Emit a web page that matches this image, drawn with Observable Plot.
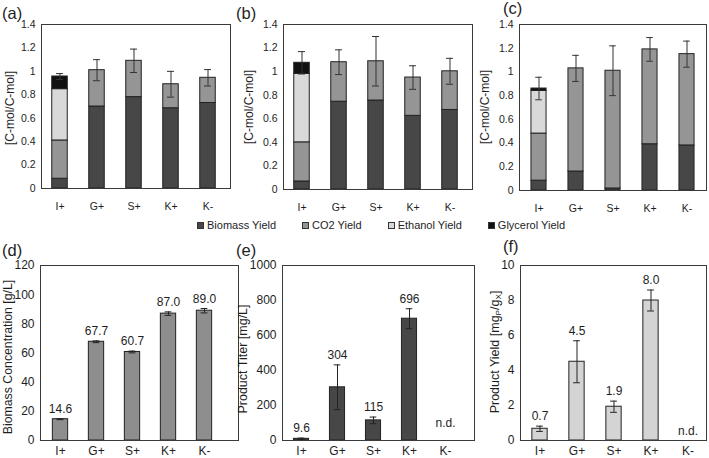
<!DOCTYPE html>
<html><head><meta charset="utf-8">
<script src="https://cdn.jsdelivr.net/npm/d3@7"></script>
<script src="https://cdn.jsdelivr.net/npm/@observablehq/plot@0.6"></script>
<style>
html,body{margin:0;padding:0;background:#fff;}
#chart{position:relative;width:709px;height:458px;overflow:hidden;font-family:"Liberation Sans",Arial,sans-serif;color:#1e1e1e;}
#chart svg{position:absolute;left:0;top:0;}
.plbl{position:absolute;font-size:16.5px;line-height:13px;white-space:nowrap;}
.ytitle{position:absolute;white-space:nowrap;line-height:1;transform:translate(-50%,-50%) rotate(-90deg);}
.ytitle sub{font-size:65%;vertical-align:-0.25em;line-height:0;}
#legend{position:absolute;left:197px;top:219px;display:flex;gap:26px;font-size:11px;line-height:13px;white-space:nowrap;}
#legend .it{display:flex;align-items:center;}
#legend .sw{width:5px;height:5px;border:1px solid #333;margin-right:3px;}
</style></head><body><div id="chart"></div>
<script>
// ---------- data ----------
const categories = ["I+", "G+", "S+", "K+", "K-"];
const components = ["Biomass Yield", "CO2 Yield", "Ethanol Yield", "Glycerol Yield"];

// (a)
const aBiomass  = [0.083, 0.70, 0.78, 0.685, 0.73];
const aCO2      = [0.327, 0.31, 0.31, 0.205, 0.215];
const aEthanol  = [0.438, 0, 0, 0, 0];
const aGlycerol = [0.108, 0, 0, 0, 0];
const aErr      = [0.025, 0.09, 0.10, 0.11, 0.07];
// (b)
const bBiomass  = [0.068, 0.745, 0.755, 0.625, 0.675];
const bCO2      = [0.332, 0.335, 0.333, 0.325, 0.328];
const bEthanol  = [0.58, 0, 0, 0, 0];
const bGlycerol = [0.095, 0, 0, 0, 0];
const bErr      = [0.095, 0.105, 0.21, 0.10, 0.11];
// (c)
const cBiomass  = [0.083, 0.16, 0.017, 0.39, 0.38];
const cCO2      = [0.397, 0.87, 0.993, 0.80, 0.77];
const cEthanol  = [0.36, 0, 0, 0, 0];
const cGlycerol = [0.02, 0, 0, 0, 0];
const cErr      = [0.095, 0.11, 0.21, 0.10, 0.11];
// (d)
const dBiomassConc = [14.6, 67.7, 60.7, 87.0, 89.0];
const dErr         = [0.3, 0.6, 0.6, 1.2, 1.5];
const dLabels      = ["14.6", "67.7", "60.7", "87.0", "89.0"];
// (e)
const eTiter  = [9.6, 304, 115, 696, null];
const eErr    = [4, 128, 19, 57, null];
const eLabels = ["9.6", "304", "115", "696", "n.d."];
// (f)
const fYield  = [0.67, 4.5, 1.93, 8.0, null];
const fErr    = [0.15, 1.2, 0.32, 0.6, null];
const fLabels = ["0.7", "4.5", "1.9", "8.0", "n.d."];

// tick values
const yTicksTop = [0, 0.2, 0.4, 0.6, 0.8, 1, 1.2, 1.4];
const yTicksD = [0, 20, 40, 60, 80, 100, 120];
const yTicksE = [0, 200, 400, 600, 800, 1000];
const yTicksF = [0, 2, 4, 6, 8, 10];

// ---------- styling ----------
const W = 709, H = 458;
const compColors = ["#474747", "#959595", "#d9d9d9", "#111111"];
const FONT = '"Liberation Sans", Arial, sans-serif';
const chart = document.getElementById("chart");

function basePlot(frame, xRange, yDomain, yTicks, fontSize, xPad, marks) {
  return Plot.plot({
    width: W, height: H,
    marginLeft: frame[0], marginRight: W - frame[1], marginTop: frame[2], marginBottom: H - frame[3],
    style: {fontFamily: FONT, fontSize: fontSize + "px", background: "transparent", overflow: "visible", color: "#1e1e1e"},
    x: {type: "band", domain: categories, range: xRange, padding: 0, tickSize: 0, tickPadding: xPad, label: null},
    y: {domain: yDomain, ticks: yTicks, tickSize: 0, tickPadding: 6, label: null,
        tickFormat: d => String(+d.toFixed(1))},
    color: {domain: components, range: compColors},
    marks: [...marks, Plot.frame({stroke: "#3a3a3a", strokeWidth: 1})]
  });
}

function stackedPanel(frame, xRange, biomass, co2, ethanol, glycerol, err) {
  const series = [biomass, co2, ethanol, glycerol];
  const rows = [];
  categories.forEach((c, i) => components.forEach((k, j) => {
    if (series[j][i] > 0) rows.push({cat: c, comp: k, v: series[j][i]});
  }));
  const tot = categories.map((c, i) => ({cat: c, t: series.reduce((s, a) => s + a[i], 0), e: err[i]}));
  const step = (xRange[1] - xRange[0]) / categories.length;
  const barInset = (step - 15.5) / 2, capInset = (step - 7) / 2;
  const svg = basePlot(frame, xRange, [0, 1.4], yTicksTop, 10.5, 14, [
    Plot.barY(rows, {x: "cat", y: "v", fill: "comp", stroke: "#222", strokeWidth: 1, insetLeft: barInset, insetRight: barInset}),
    Plot.ruleX(tot, {x: "cat", y1: d => d.t - d.e, y2: d => d.t + d.e, stroke: "#333", strokeWidth: 1}),
    Plot.tickY(tot, {x: "cat", y: d => d.t + d.e, stroke: "#333", insetLeft: capInset, insetRight: capInset}),
    Plot.tickY(tot, {x: "cat", y: d => d.t - d.e, stroke: "#333", insetLeft: capInset, insetRight: capInset})
  ]);
  chart.appendChild(svg);
}

function simplePanel(frame, xRange, yDomain, yTicks, values, err, labels, fill, ndDy) {
  const rows = categories.map((c, i) => ({cat: c, v: values[i], e: err[i], lab: labels[i]}));
  const valid = rows.filter(d => d.v != null);
  const nd = rows.filter(d => d.v == null);
  const step = (xRange[1] - xRange[0]) / categories.length;
  const barInset = (step - 15.5) / 2, capInset = (step - 7) / 2;
  const svg = basePlot(frame, xRange, yDomain, yTicks, 12, 6, [
    Plot.barY(valid, {x: "cat", y: "v", fill: fill, stroke: "#222", strokeWidth: 1, insetLeft: barInset, insetRight: barInset}),
    Plot.ruleX(valid, {x: "cat", y1: d => d.v - d.e, y2: d => d.v + d.e, stroke: "#222", strokeWidth: 1}),
    Plot.tickY(valid, {x: "cat", y: d => d.v + d.e, stroke: "#222", insetLeft: capInset, insetRight: capInset}),
    Plot.tickY(valid, {x: "cat", y: d => d.v - d.e, stroke: "#222", insetLeft: capInset, insetRight: capInset}),
    Plot.text(valid, {x: "cat", y: d => d.v + d.e, text: "lab", dy: -6, lineAnchor: "bottom", fontSize: 12, fill: "#1e1e1e"}),
    Plot.text(nd, {x: "cat", y: () => 0, text: "lab", dy: ndDy, lineAnchor: "bottom", fontSize: 12, fill: "#1e1e1e"})
  ]);
  chart.appendChild(svg);
}

stackedPanel([41, 230, 24, 188], [41, 226], aBiomass, aCO2, aEthanol, aGlycerol, aErr);
stackedPanel([283, 472, 24, 189], [283, 468], bBiomass, bCO2, bEthanol, bGlycerol, bErr);
stackedPanel([519, 706, 24, 190], [519, 706], cBiomass, cCO2, cEthanol, cGlycerol, cErr);
simplePanel([40, 238, 265, 440], [41, 222], [0, 120], yTicksD, dBiomassConc, dErr, dLabels, "#8e8e8e", -6);
simplePanel([282, 474, 265, 440], [282, 464], [0, 1000], yTicksE, eTiter, eErr, eLabels, "#474747", -14);
simplePanel([520, 706, 265, 440], [520, 706], [0, 10], yTicksF, fYield, fErr, fLabels, "#d4d4d4", -6);

// panel letters
const panelLetters = [["(a)", 2, 6.8], ["(b)", 236, 6.8], ["(c)", 503, 1.5], ["(d)", 2, 243.5], ["(e)", 236, 243.5], ["(f)", 503, 240]];
panelLetters.forEach(([t, x, y]) => {
  const el = document.createElement("div");
  el.className = "plbl"; el.textContent = t;
  el.style.left = x + "px"; el.style.top = y + "px";
  chart.appendChild(el);
});

// y-axis titles
const yTitles = [
  ["[C-mol/C-mol]", 10, 107.5, 12],
  ["[C-mol/C-mol]", 249, 107, 12],
  ["[C-mol/C-mol]", 485, 107, 12],
  ["Biomass Concentration [g/L]", 7.5, 356.7, 12.3],
  ["Product Titer [mg/L]", 242.5, 359, 12.5],
  ["Product Yield [mg<sub>P</sub>/g<sub>X</sub>]", 495, 352, 12.5]
];
yTitles.forEach(([t, cx, cy, fs]) => {
  const el = document.createElement("div");
  el.className = "ytitle"; el.innerHTML = t;
  el.style.left = cx + "px"; el.style.top = cy + "px"; el.style.fontSize = fs + "px";
  chart.appendChild(el);
});

// legend
const legend = document.createElement("div");
legend.id = "legend";
components.forEach((k, j) => {
  const it = document.createElement("div"); it.className = "it";
  const sw = document.createElement("span"); sw.className = "sw"; sw.style.background = compColors[j];
  const tx = document.createElement("span"); tx.textContent = k;
  it.appendChild(sw); it.appendChild(tx); legend.appendChild(it);
});
chart.appendChild(legend);
</script>
</body></html>
